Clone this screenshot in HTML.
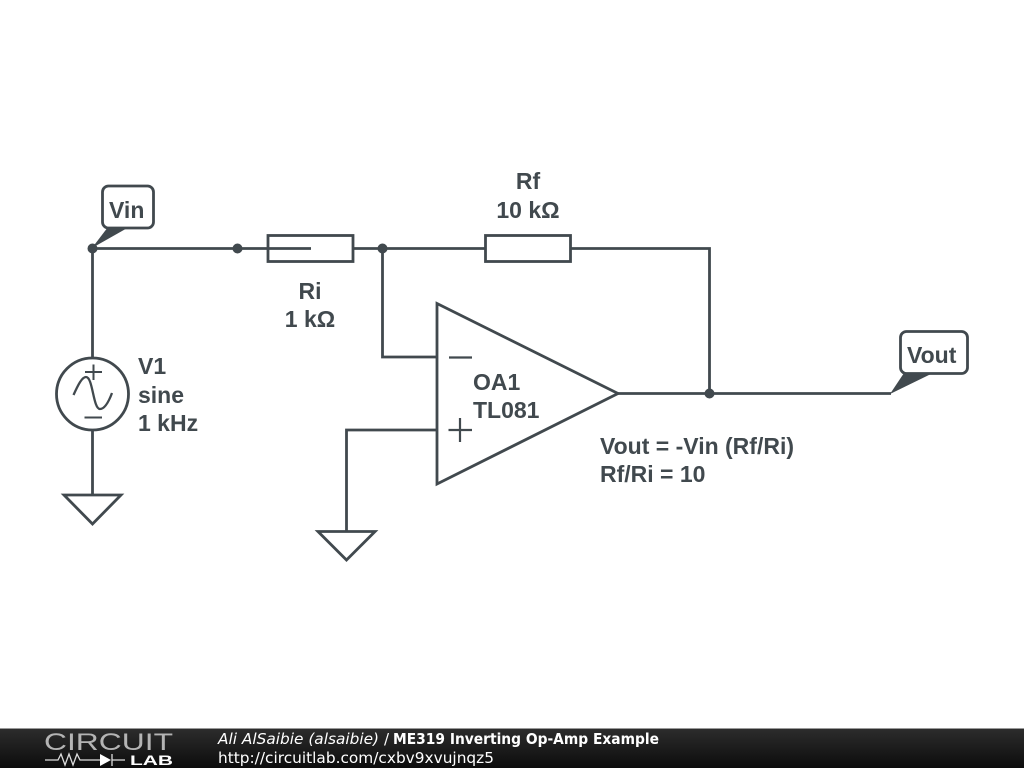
<!DOCTYPE html>
<html><head><meta charset="utf-8"><style>
html,body{margin:0;padding:0;background:#fff;width:1024px;height:768px;overflow:hidden}
svg{display:block}
.t{font-family:"Liberation Sans",sans-serif;font-size:23px;font-weight:bold;fill:#41494e}
.f{font-family:"DejaVu Sans",sans-serif;font-size:15px;fill:#fff}
</style></head><body>
<svg width="1024" height="768" viewBox="0 0 1024 768" xmlns="http://www.w3.org/2000/svg">
<defs><linearGradient id="g" x1="0" y1="0" x2="0" y2="1"><stop offset="0" stop-color="#2c2c2c"/><stop offset="1" stop-color="#0c0c0c"/></linearGradient></defs>
<rect width="1024" height="768" fill="#fff"/>
<g fill="none" stroke="#41494e" stroke-width="2.800">
<path d="M92.500 248.500H268M353 248.500H486M571 248.500H709.500V393.500"/>
<path d="M268 248.500H311"/>
<rect x="268" y="235.500" width="85" height="26"/>
<rect x="485.500" y="235.500" width="85" height="26"/>
<path d="M92.500 248.500V358M92.500 430V495"/>
<circle cx="92.500" cy="394" r="36"/>
<path d="M85 372H102M93.500 364.500V380M84.500 417.500H102" stroke-width="2"/>
<path d="M73.500 395C78 385 82 377 86 377C93 377 93 409 100 409C105 409 109 401 112 393" stroke-width="2.300"/>
<path d="M64 495H121L92.500 524Z"/>
<path d="M382.500 248.500V357H437M346.500 531V430H437"/>
<path d="M318 531.500H375L346.500 560Z"/>
<path d="M437 303.500V484L618 393.500Z"/>
<path d="M449 357.500H472M448.500 430H472M460 418V442" stroke-width="2.200"/>
<path d="M618 393.500H891"/>
<rect x="102.500" y="186" width="51" height="42" rx="6"/>
<rect x="900.500" y="331.500" width="67" height="42" rx="6"/>
</g>
<g fill="#41494e">
<circle cx="92.500" cy="248.500" r="5"/><circle cx="237.500" cy="248.500" r="5"/><circle cx="382.500" cy="248.500" r="5"/><circle cx="709.500" cy="393.500" r="5"/>
<path d="M92 248L108 227H129Z"/>
<path d="M890 394L904 373H933Z"/>
</g>
<g class="t">
<text x="109" y="218">Vin</text>
<text x="907" y="363">Vout</text>
<text x="528" y="189" text-anchor="middle">Rf</text>
<text x="528" y="218" text-anchor="middle">10 kΩ</text>
<text x="310" y="299" text-anchor="middle">Ri</text>
<text x="310" y="327" text-anchor="middle">1 kΩ</text>
<text x="138" y="374">V1</text>
<text x="138" y="403">sine</text>
<text x="138" y="431">1 kHz</text>
<text x="473" y="390">OA1</text>
<text x="473" y="418">TL081</text>
<text x="600" y="454">Vout = -Vin (Rf/Ri)</text>
<text x="600" y="482">Rf/Ri = 10</text>
</g>
<rect y="729" width="1024" height="39" fill="url(#g)"/>
<rect y="728" width="1024" height="1" fill="#999"/>
<text x="44" y="750" font-family="'Liberation Sans',sans-serif" font-size="24" fill="#b4b4b4" textLength="129" lengthAdjust="spacingAndGlyphs">CIRCUIT</text>
<path d="M45 760H58L61 754L65 765L69 754L73 765L77 754L80 760H100M112 760H125M112 754V766" fill="none" stroke="#ddd" stroke-width="1.300"/>
<path d="M100 754V766L111 760Z" fill="#fff"/>
<text x="130" y="765" font-family="'Liberation Sans',sans-serif" font-size="14" font-weight="bold" fill="#fff" textLength="43" lengthAdjust="spacingAndGlyphs">LAB</text>
<text class="f" x="218" y="744" font-style="italic" textLength="161" lengthAdjust="spacingAndGlyphs">Ali AlSaibie (alsaibie)</text>
<text class="f" x="384" y="744">/</text>
<text class="f" x="393" y="744" font-weight="bold" textLength="266" lengthAdjust="spacingAndGlyphs">ME319 Inverting Op-Amp Example</text>
<text class="f" x="218" y="763" textLength="276" lengthAdjust="spacingAndGlyphs">http://circuitlab.com/cxbv9xvujnqz5</text>
</svg>
</body></html>
